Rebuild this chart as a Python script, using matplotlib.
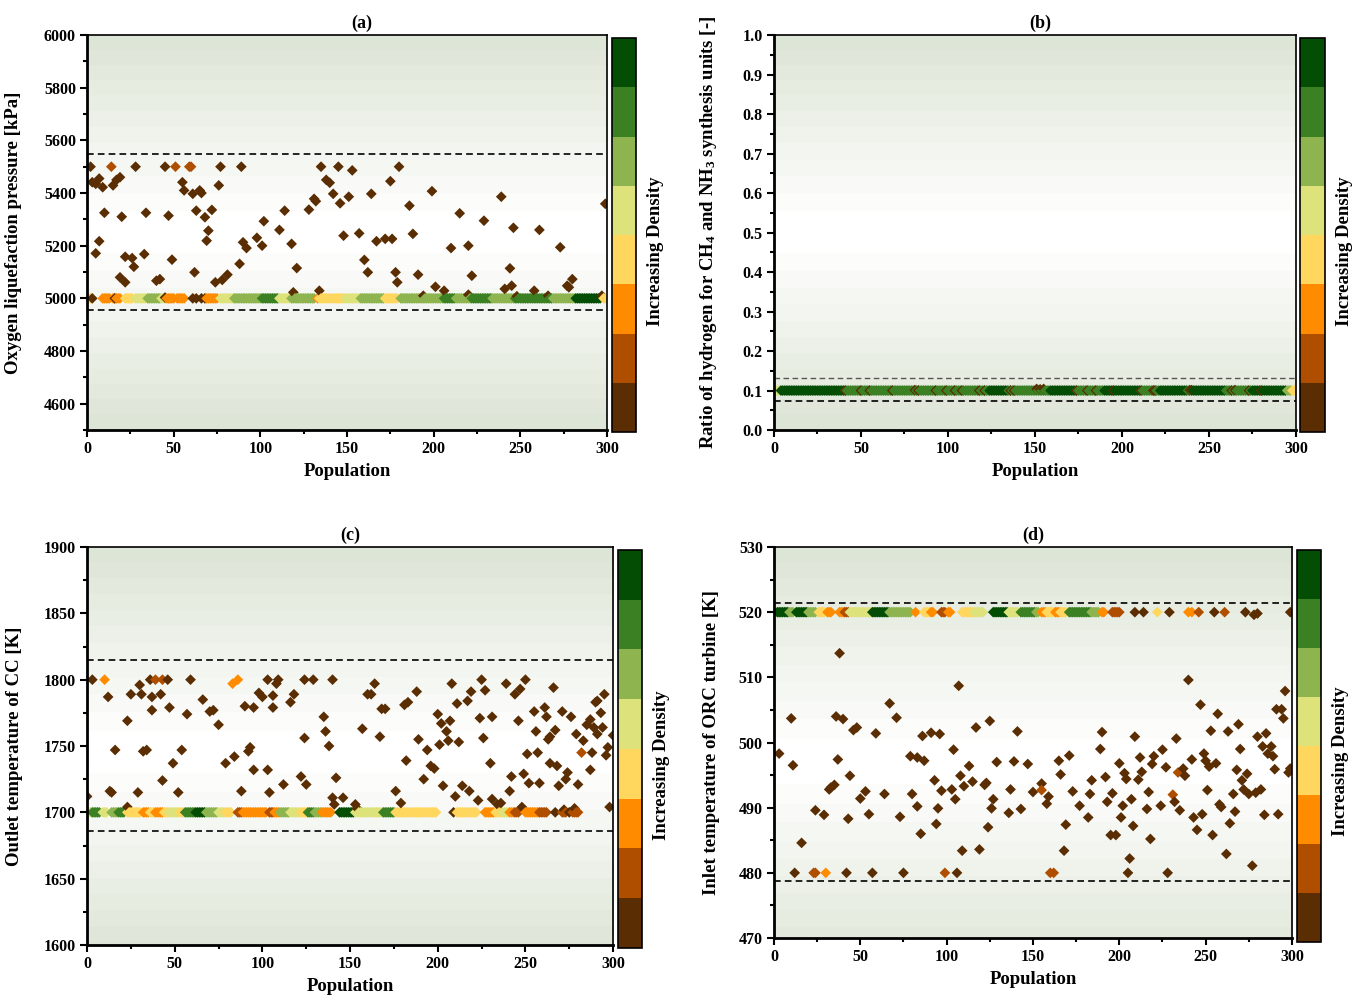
"""
Density-coloured scatter of four decision variables over the population
(a) O2 liquefaction pressure, (b) H2 split ratio, (c) CC outlet T, (d) ORC inlet T.
"""

import matplotlib

matplotlib.use("Agg")
import matplotlib.pyplot as plt
import numpy as np
from matplotlib.cm import ScalarMappable
from matplotlib.colors import BoundaryNorm, LinearSegmentedColormap, ListedColormap
from matplotlib.ticker import MultipleLocator

plt.rcParams["font.family"] = ["Liberation Serif", "DejaVu Serif"]
plt.rcParams["font.weight"] = "bold"
plt.rcParams["mathtext.fontset"] = "custom"
plt.rcParams["mathtext.rm"] = "Liberation Serif:bold"
plt.rcParams["mathtext.bf"] = "Liberation Serif:bold"
plt.rcParams["mathtext.default"] = "bf"

# ──────────────────────────────────────────────
# 1.  DATA  (x = population index, y = value, level = density class 0..7)
# ──────────────────────────────────────────────
POP_TICKS = [0, 50, 100, 150, 200, 250, 300]

# (a) oxygen liquefaction pressure [kPa]
a_bound = 5000
a_band = [  # runs of individuals sitting on the lower bound: (first, last, level)
    (0, 2, 3), (9, 13, 2), (15, 19, 2), (22, 26, 3), (28, 34, 4), (35, 42, 5),
    (43, 45, 4), (46, 50, 2), (52, 56, 2), (69, 75, 2), (77, 84, 4), (85, 100, 5),
    (101, 110, 6), (111, 117, 4), (118, 131, 5), (133, 133, 2), (134, 148, 3),
    (149, 157, 4), (158, 171, 5), (172, 179, 3), (181, 205, 5), (206, 212, 6),
    (213, 221, 5), (222, 233, 6), (234, 246, 5), (247, 268, 6), (269, 281, 5),
    (282, 296, 7), (298, 299, 3),
]
a_pts = [
    (2, 5500, 0), (3, 5441, 0), (5, 5435, 0), (7, 5455, 0), (9, 5422, 0), (10, 5325, 0),
    (7, 5217, 0), (5, 5171, 0), (3, 5000, 0), (14, 5500, 1), (15, 5429, 0), (17, 5450, 0),
    (19, 5460, 0), (20, 5310, 0), (22, 5158, 0), (19, 5080, 0), (22, 5061, 0), (26, 5153, 0),
    (27, 5120, 0), (28, 5500, 0), (34, 5325, 0), (33, 5168, 0), (40, 5067, 0), (42, 5073, 0),
    (45, 5500, 0), (47, 5314, 0), (49, 5147, 0), (51, 5500, 1), (59, 5500, 1), (60, 5500, 1),
    (55, 5441, 0), (56, 5410, 0), (61, 5397, 0), (65, 5410, 0), (66, 5400, 0), (63, 5333, 0),
    (68, 5308, 0), (70, 5257, 0), (69, 5219, 0), (62, 5099, 0), (72, 5336, 0), (76, 5429, 0),
    (77, 5500, 0), (74, 5061, 0), (78, 5070, 0), (81, 5090, 0), (88, 5131, 0), (89, 5500, 0),
    (90, 5213, 0), (92, 5191, 0), (98, 5230, 0), (101, 5200, 0), (102, 5293, 0), (111, 5260, 0),
    (114, 5333, 0), (118, 5207, 0), (121, 5115, 0), (119, 5023, 0), (128, 5337, 0), (131, 5378, 0),
    (132, 5369, 0), (134, 5029, 0), (135, 5500, 0), (138, 5450, 0), (140, 5439, 0), (142, 5397, 0),
    (145, 5500, 0), (146, 5361, 0), (148, 5238, 0), (151, 5386, 0), (153, 5486, 0), (157, 5247, 0),
    (160, 5146, 0), (162, 5099, 0), (164, 5397, 0), (167, 5217, 0), (172, 5226, 0), (176, 5226, 0),
    (175, 5445, 0), (178, 5099, 0), (179, 5061, 0), (180, 5500, 0), (186, 5352, 0), (188, 5245, 0),
    (191, 5090, 0), (194, 5010, 0), (199, 5407, 0), (201, 5044, 0), (206, 5029, 0), (210, 5191, 0),
    (215, 5323, 0), (220, 5200, 0), (222, 5086, 0), (220, 5014, 0), (229, 5295, 0), (239, 5386, 0),
    (244, 5114, 0), (245, 5048, 0), (241, 5036, 0), (246, 5268, 0), (248, 5008, 0), (258, 5029, 0),
    (261, 5260, 0), (266, 5010, 0), (273, 5194, 0), (277, 5048, 0), (280, 5073, 0), (278, 5042, 0),
    (299, 5359, 0), (297, 5010, 0), (16, 5000, 0), (45, 5003, 0), (61, 5000, 0), (63, 5000, 0),
    (66, 5000, 0), (68, 5000, 0),
]

# (b) hydrogen split ratio [-]
b_bound = 0.1
b_band = [
    (0, 3, 4), (4, 40, 7), (41, 74, 6), (75, 95, 6), (96, 123, 6), (124, 134, 7),
    (135, 158, 6), (159, 173, 7), (174, 189, 6), (190, 210, 7), (211, 221, 6),
    (222, 237, 7), (238, 240, 6), (241, 259, 7), (260, 274, 6), (275, 294, 7),
    (295, 297, 5), (298, 300, 3),
]
b_pts = [
    (41, 0.100, 0), (50, 0.100, 0), (55, 0.100, 0), (68, 0.100, 0), (81, 0.101, 0),
    (83, 0.100, 0), (93, 0.100, 0), (99, 0.100, 0), (104, 0.100, 0), (108, 0.100, 0),
    (118, 0.100, 0), (121, 0.100, 0), (136, 0.100, 0), (138, 0.100, 0), (151, 0.104, 0),
    (153, 0.103, 0), (155, 0.104, 0), (174, 0.100, 0), (180, 0.100, 0), (185, 0.100, 0),
    (195, 0.100, 0), (211, 0.100, 0), (218, 0.100, 0), (219, 0.100, 0), (239, 0.101, 0),
    (240, 0.101, 0), (263, 0.100, 0), (265, 0.101, 0), (273, 0.100, 0), (280, 0.100, 0),
]

# (c) outlet temperature of CC [K]
c_bound = 1700
c_band = [
    (0, 2, 4), (3, 7, 6), (9, 11, 4), (14, 17, 5), (18, 21, 6), (23, 30, 3), (32, 35, 2),
    (36, 38, 3), (39, 43, 2), (44, 46, 3), (47, 52, 4), (53, 55, 3), (56, 61, 6), (62, 67, 7),
    (68, 74, 5), (75, 78, 4), (79, 82, 3), (86, 88, 1), (89, 94, 2), (95, 102, 2), (104, 106, 1),
    (107, 109, 2), (110, 115, 5), (116, 121, 4), (122, 125, 3), (126, 129, 6), (130, 133, 5),
    (134, 139, 2), (144, 152, 7), (153, 168, 4), (169, 175, 6), (176, 199, 3), (211, 222, 3),
    (227, 232, 2), (233, 236, 3), (237, 240, 4), (241, 243, 2), (244, 246, 1), (250, 257, 2),
    (258, 262, 1), (271, 273, 1), (277, 280, 1),
]
c_pts = [
    (3, 1800, 0), (10, 1800, 2), (0, 1712, 0), (12, 1787, 0), (13, 1716, 0), (14, 1715, 0),
    (16, 1747, 0), (23, 1769, 0), (23, 1704, 0), (25, 1789, 0), (29, 1715, 0), (30, 1796, 0),
    (31, 1789, 0), (32, 1746, 0), (34, 1747, 0), (36, 1800, 0), (37, 1777, 0), (37, 1787, 0),
    (39, 1800, 1), (43, 1724, 0), (42, 1789, 0), (43, 1800, 1), (46, 1800, 0), (47, 1779, 0),
    (49, 1737, 0), (52, 1715, 0), (54, 1747, 0), (57, 1774, 0), (59, 1800, 0), (66, 1785, 0),
    (70, 1776, 0), (72, 1777, 0), (75, 1766, 0), (79, 1737, 0), (83, 1797, 2), (86, 1800, 2),
    (84, 1742, 0), (88, 1716, 0), (90, 1780, 0), (92, 1746, 0), (93, 1749, 0), (95, 1732, 0),
    (95, 1779, 0), (98, 1790, 0), (100, 1787, 0), (103, 1732, 0), (103, 1800, 0), (104, 1715, 0),
    (106, 1779, 0), (106, 1788, 0), (109, 1800, 0), (108, 1797, 0), (112, 1721, 0), (116, 1783, 0),
    (118, 1789, 0), (122, 1727, 0), (124, 1756, 0), (125, 1721, 0), (124, 1800, 0), (129, 1800, 0),
    (135, 1772, 0), (136, 1761, 0), (138, 1750, 0), (140, 1800, 0), (140, 1711, 0), (141, 1706, 0),
    (142, 1726, 0), (146, 1711, 0), (153, 1706, 0), (154, 1703, 0), (157, 1763, 0), (160, 1789, 0),
    (162, 1789, 0), (164, 1797, 0), (167, 1757, 0), (168, 1778, 0), (170, 1778, 0), (176, 1716, 0),
    (179, 1707, 0), (181, 1781, 0), (183, 1783, 0), (182, 1739, 0), (188, 1791, 0), (189, 1755, 0),
    (192, 1725, 0), (194, 1747, 0), (196, 1735, 0), (198, 1733, 0), (200, 1774, 0), (202, 1767, 0),
    (201, 1751, 0), (203, 1720, 0), (205, 1761, 0), (206, 1754, 0), (207, 1769, 0), (208, 1797, 0),
    (210, 1712, 0), (211, 1782, 0), (212, 1753, 0), (214, 1720, 0), (218, 1716, 0), (217, 1784, 0),
    (219, 1791, 0), (223, 1709, 0), (224, 1771, 0), (226, 1756, 0), (227, 1792, 0), (225, 1800, 0),
    (230, 1737, 0), (231, 1772, 0), (231, 1710, 0), (234, 1706, 0), (236, 1707, 0), (239, 1797, 0),
    (241, 1716, 0), (242, 1727, 0), (244, 1789, 0), (246, 1769, 0), (247, 1793, 0), (248, 1704, 0),
    (250, 1800, 0), (249, 1729, 0), (251, 1744, 0), (252, 1722, 0), (255, 1776, 0), (256, 1761, 0),
    (257, 1745, 0), (258, 1722, 0), (261, 1779, 0), (262, 1772, 0), (263, 1755, 0), (264, 1757, 0),
    (264, 1737, 0), (266, 1794, 0), (267, 1762, 0), (268, 1735, 0), (269, 1720, 0), (271, 1776, 0),
    (273, 1725, 0), (274, 1730, 0), (276, 1772, 0), (279, 1759, 0), (280, 1721, 0), (282, 1745, 1),
    (283, 1754, 0), (285, 1766, 0), (287, 1770, 0), (287, 1732, 0), (288, 1745, 0), (289, 1764, 0),
    (291, 1759, 0), (290, 1783, 0), (291, 1784, 0), (293, 1775, 0), (295, 1789, 0), (294, 1764, 0),
    (296, 1743, 0), (297, 1749, 0), (298, 1704, 0), (209, 1700, 0), (267, 1700, 0), (272, 1702, 0),
    (275, 1700, 0), (278, 1703, 0), (300, 1758, 0),
]

# (d) inlet temperature of ORC turbine [K]
d_bound = 520
d_band = [
    (0, 1, 3), (2, 8, 7), (9, 11, 5), (13, 19, 7), (20, 24, 5), (26, 29, 3), (31, 33, 2),
    (38, 40, 2), (41, 43, 1), (44, 56, 4), (57, 66, 7), (67, 79, 5), (82, 82, 2), (87, 90, 3),
    (91, 92, 2), (97, 99, 1), (101, 102, 2), (109, 115, 3), (116, 121, 4), (127, 135, 7),
    (136, 141, 4), (143, 151, 6), (152, 153, 5), (155, 157, 2), (158, 162, 3), (163, 165, 2),
    (166, 169, 3), (171, 183, 6), (184, 188, 5), (190, 191, 2), (196, 200, 1),
]
d_pts = [
    (3, 498.3, 0), (10, 503.7, 0), (11, 496.5, 0), (16, 484.6, 0), (12, 480, 0), (23, 480, 1),
    (24, 480, 1), (30, 480, 2), (24, 489.6, 0), (29, 488.9, 0), (32, 492.8, 0), (33, 493.1, 0),
    (35, 493.5, 0), (36, 504.0, 0), (37, 497.4, 0), (38, 513.7, 0), (40, 503.6, 0), (42, 480, 0),
    (43, 488.3, 0), (44, 494.9, 0), (46, 501.9, 0), (48, 502.3, 0), (50, 491.4, 0), (53, 492.5, 0),
    (55, 489.0, 0), (57, 480, 0), (59, 501.4, 0), (64, 492.1, 0), (67, 506.0, 0), (71, 503.8, 0),
    (73, 488.6, 0), (75, 480, 0), (79, 497.9, 0), (80, 492.1, 0), (83, 490.2, 0), (83, 497.7, 0),
    (85, 486.0, 0), (86, 501.0, 0), (87, 497.2, 0), (91, 501.5, 0), (93, 494.2, 0), (94, 487.5, 0),
    (95, 489.9, 0), (96, 501.3, 0), (97, 492.6, 0), (99, 480, 1), (103, 492.8, 0), (104, 498.9, 0),
    (105, 491.3, 0), (106, 480, 0), (107, 508.7, 0), (108, 494.9, 0), (109, 483.4, 0), (110, 493.3, 0),
    (113, 496.4, 0), (115, 494.0, 0), (117, 502.3, 0), (119, 483.6, 0), (122, 493.5, 0), (123, 493.8, 0),
    (124, 487.0, 0), (125, 503.3, 0), (126, 489.9, 0), (127, 491.3, 0), (129, 497.0, 0), (136, 489.2, 0),
    (137, 492.8, 0), (139, 497.1, 0), (141, 501.7, 0), (143, 489.8, 0), (147, 496.7, 0), (150, 492.4, 0),
    (155, 493.7, 0), (155, 492.7, 1), (159, 491.7, 0), (158, 490.6, 0), (160, 480, 1), (162, 480, 1),
    (165, 497.2, 0), (166, 495.1, 0), (168, 483.4, 0), (169, 487.4, 0), (171, 498.0, 0), (173, 492.5, 0),
    (177, 490.3, 0), (182, 488.5, 0), (183, 492.1, 0), (184, 494.2, 0), (189, 499.0, 0), (190, 501.6, 0),
    (192, 494.7, 0), (193, 490.9, 0), (195, 485.8, 0), (196, 492.2, 0), (198, 485.8, 0), (200, 496.8, 0),
    (201, 488.5, 0), (202, 490.3, 0), (203, 495.3, 0), (204, 494.4, 0), (205, 480, 0), (206, 482.2, 0),
    (207, 491.3, 0), (208, 487.2, 0), (209, 500.9, 0), (211, 494.3, 0), (212, 497.7, 0), (213, 495.5, 0),
    (216, 489.8, 0), (217, 492.4, 0), (218, 485.2, 0), (219, 496.7, 0), (220, 497.9, 0), (224, 490.3, 0),
    (225, 498.9, 0), (227, 496.2, 0), (228, 480, 0), (231, 492.0, 1), (232, 490.9, 0), (233, 500.6, 0),
    (234, 495.4, 1), (235, 489.6, 0), (237, 496.0, 0), (238, 494.9, 0), (240, 509.6, 0), (242, 497.4, 0),
    (243, 488.5, 0), (245, 486.6, 0), (247, 505.8, 0), (248, 489.0, 0), (249, 498.3, 0), (250, 497.2, 0),
    (251, 492.7, 0), (252, 496.3, 0), (253, 501.8, 0), (254, 485.8, 0), (256, 496.8, 0), (257, 504.4, 0),
    (258, 490.5, 0), (259, 490.1, 0), (262, 482.9, 0), (263, 501.7, 0), (264, 487.6, 0), (266, 492.1, 0),
    (267, 489.4, 0), (268, 495.8, 0), (269, 502.8, 0), (270, 499.0, 0), (271, 494.2, 0), (272, 492.8, 0),
    (274, 495.2, 0), (275, 492.1, 0), (277, 481.1, 0), (279, 492.3, 0), (280, 500.9, 0), (282, 492.8, 0),
    (283, 499.4, 0), (284, 488.9, 0), (285, 501.4, 0), (286, 498.3, 0), (288, 499.4, 0), (289, 497.9, 0),
    (290, 495.9, 0), (291, 505.1, 0), (292, 489.0, 0), (294, 505.1, 0), (295, 503.7, 0), (296, 507.9, 0),
    (298, 495.4, 0), (299, 496.0, 0),
    (209, 520, 0), (214, 520, 0), (222, 520, 3), (229, 520, 0), (240, 520, 2), (242, 520, 2),
    (246, 520, 1), (255, 520, 0), (261, 520, 1), (273, 520, 0), (278, 519.6, 0), (280, 519.8, 0),
    (299, 520, 0),
]

# ──────────────────────────────────────────────
# 2.  STYLE
# ──────────────────────────────────────────────
DENSITY_COLORS = ["#5a2d02", "#b04e00", "#ff8c00", "#ffd65e",
                  "#dde27a", "#8db44e", "#3b8124", "#044d04"]
DENSITY_CMAP = ListedColormap(DENSITY_COLORS)
DENSITY_NORM = BoundaryNorm(np.arange(-0.5, 8.5, 1.0), DENSITY_CMAP.N)
BG_CMAP = LinearSegmentedColormap.from_list("bg", ["#ffffff", "#dbe3d3"])

TICK_FS = 11.5
LABEL_FS = 13.5


def collect(band, bound, pts):
    """Merge bound-hitting runs with the free points, ordered by population index."""
    xs, ys, lv = [], [], []
    for first, last, level in band:
        idx = np.arange(first, last + 1)
        xs.extend(idx)
        ys.extend([bound] * len(idx))
        lv.extend([level] * len(idx))
    for x, y, level in pts:
        xs.append(x)
        ys.append(y)
        lv.append(level)
    order = np.argsort(xs, kind="stable")
    return np.asarray(xs)[order], np.asarray(ys)[order], np.asarray(lv)[order]


def draw_panel(fig, rect, cbar_rect, data, ylim, ymajor, yfmt, ylabel, title,
               dashes, bg_center, ylabel_x, title_x=0.5):
    ax = fig.add_axes(rect)
    lo, hi = ylim

    # light banded background, white around the bulk of the data
    grid = np.linspace(lo, hi, 400)
    dist = np.abs(grid - bg_center) / max(bg_center - lo, hi - bg_center)
    dist = np.floor(dist ** 1.1 * 12) / 12
    ax.imshow(dist[:, None], extent=[0, 300, lo, hi], origin="lower", aspect="auto",
              cmap=BG_CMAP, vmin=0, vmax=1, zorder=0, interpolation="nearest")

    for yv, col, lw in dashes:
        ax.axhline(yv, color=col, lw=lw, ls=(0, (4, 2.5)), zorder=1)

    xs, ys, lv = data
    ax.scatter(xs, ys, c=lv, cmap=DENSITY_CMAP, norm=DENSITY_NORM, marker="D",
               s=30, linewidths=0, zorder=2)

    ax.set_xlim(0, 300)
    ax.set_ylim(lo, hi)
    ax.set_xticks(POP_TICKS)
    ax.xaxis.set_minor_locator(MultipleLocator(25))
    ax.yaxis.set_major_locator(MultipleLocator(ymajor))
    ax.yaxis.set_minor_locator(MultipleLocator(ymajor / 2))
    ax.yaxis.set_major_formatter(yfmt)
    ax.tick_params(which="major", direction="out", length=5, width=1.5,
                   labelsize=TICK_FS, pad=3)
    ax.tick_params(which="minor", direction="out", length=3, width=1.5)
    for side in ("left", "bottom"):
        ax.spines[side].set_linewidth(2)
    for side in ("top", "right"):
        ax.spines[side].set_linewidth(1.2)

    ax.set_xlabel("Population", fontsize=LABEL_FS, fontweight="bold", labelpad=4)
    ax.set_ylabel(ylabel, fontsize=LABEL_FS, fontweight="bold")
    ax.yaxis.set_label_coords(ylabel_x, 0.5)
    ax.set_title(title, fontsize=13, fontweight="bold", pad=5, x=title_x)

    cax = fig.add_axes(cbar_rect)
    cb = fig.colorbar(ScalarMappable(norm=DENSITY_NORM, cmap=DENSITY_CMAP), cax=cax)
    cb.set_ticks([])
    cb.minorticks_off()
    cb.ax.tick_params(which="both", length=0)
    cb.outline.set_linewidth(1.2)
    cb.set_label("Increasing Density", fontsize=LABEL_FS, fontweight="bold")
    cb.ax.yaxis.set_label_coords(1.45, 0.46)
    return ax


# ──────────────────────────────────────────────
# 3.  MAIN
# ──────────────────────────────────────────────
def main():
    fig = plt.figure(figsize=(13.54, 9.98), dpi=100)

    draw_panel(fig, [0.0643, 0.5691, 0.3840, 0.3958], [0.4520, 0.5671, 0.0177, 0.3948],
               collect(a_band, a_bound, a_pts), (4500, 6000), 200, "{x:.0f}",
               "Oxygen liquefaction pressure [kPa]", "(a)",
               [(5550, "black", 1.2), (4957, "black", 1.2)], 5250, -0.125, title_x=0.528)

    draw_panel(fig, [0.5716, 0.5691, 0.3855, 0.3958], [0.9601, 0.5671, 0.0185, 0.3948],
               collect(b_band, b_bound, b_pts), (0.0, 1.0), 0.1, "{x:.1f}",
               "Ratio of hydrogen for CH$_4$ and NH$_3$ synthesis units [-]", "(b)",
               [(0.131, "#555555", 1.0), (0.074, "black", 1.2)], 0.5, -0.105, title_x=0.51)

    draw_panel(fig, [0.0643, 0.0531, 0.3885, 0.3988], [0.4564, 0.0501, 0.0177, 0.3988],
               collect(c_band, c_bound, c_pts), (1600, 1900), 50, "{x:.0f}",
               "Outlet temperature of CC [K]", "(c)",
               [(1815, "black", 1.2), (1686, "black", 1.2)], 1745, -0.122)

    draw_panel(fig, [0.5716, 0.0601, 0.3826, 0.3918], [0.9579, 0.0561, 0.0177, 0.3928],
               collect(d_band, d_bound, d_pts), (470, 530), 10, "{x:.0f}",
               "Inlet temperature of ORC turbine [K]", "(d)",
               [(521.4, "black", 1.2), (478.8, "black", 1.2)], 497, -0.105)

    fig.savefig("out.png", dpi=100)
    plt.close(fig)


if __name__ == "__main__":
    main()
